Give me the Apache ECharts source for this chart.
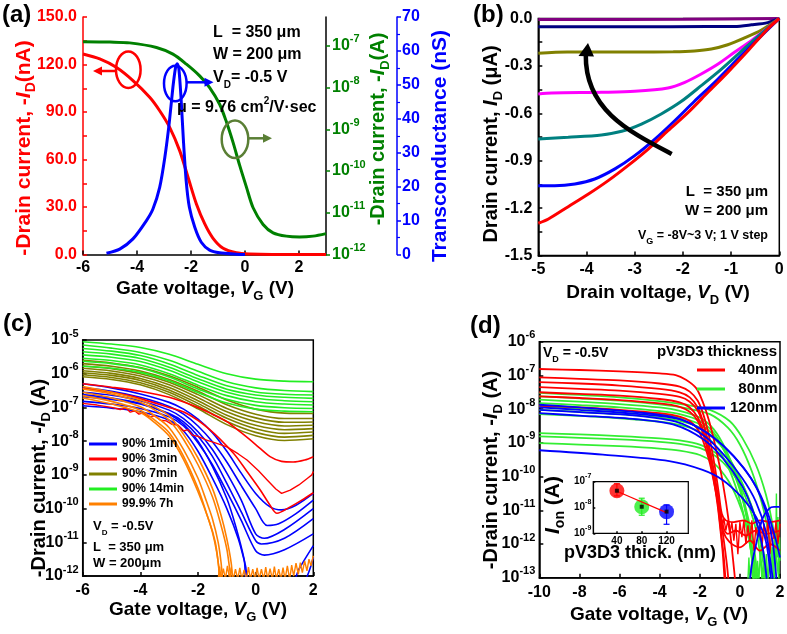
<!DOCTYPE html>
<html>
<head>
<meta charset="utf-8">
<script src="https://cdn.jsdelivr.net/npm/echarts@6.0.0/dist/echarts.min.js"></script>
<style>
html,body{margin:0;padding:0;background:#ffffff;}
#chart{width:787px;height:634px;}
</style>
</head>
<body>
<div id="chart"></div>
<script>
// ================= DATA =================
// ---- Panel (a): transfer curve (VG in V) ----
const aXTicks = [-6, -4, -2, 0, 2];
const aGreenTicks = [-12, -11, -10, -9, -8, -7];           // log10(A)
const aRedLinear = [[-6,126.6],[-5.38,123.5],[-4.77,118.2],[-4.15,109.8],[-3.53,99.3],[-3.16,90.8],[-2.79,80.3],[-2.42,65.6],[-2.11,48.8],[-1.8,31.9],[-1.49,19.3],[-1.19,10.4],[-0.81,3.9],[-0.32,1.1],[0.17,0.3],[1,0],[2,0],[3,0]]; // nA
const aGreenLog = [[-6,-6.90],[-5,-6.91],[-4.27,-6.93],[-3.28,-7.04],[-2.67,-7.20],[-2.17,-7.44],[-1.68,-7.72],[-1.31,-8.00],[-0.94,-8.40],[-0.69,-8.82],[-0.44,-9.32],[-0.20,-9.86],[0.05,-10.38],[0.30,-10.88],[0.67,-11.28],[1.04,-11.48],[1.53,-11.56],[2.02,-11.58],[2.52,-11.56],[3.0,-11.50]]; // log10(A)
const aBlueGm = [[-5.13,0.35],[-4.64,1.6],[-4.15,4.6],[-3.65,10],[-3.41,13.4],[-3.16,19.8],[-2.97,28.6],[-2.81,38.5],[-2.67,49.3],[-2.57,55.2],[-2.51,56.2],[-2.45,54.8],[-2.37,46.3],[-2.28,33.5],[-2.18,21.8],[-2.06,13.9],[-1.86,8.0],[-1.62,3.6],[-1.31,1.3],[-0.94,0.5],[-0.32,0.1],[0,0]]; // nS

// ---- Panel (b): output curves (VD in V, ID in uA) ----
const bPurple  = [[-5,-0.006],[-2,-0.005],[0,0]];
const bNavy    = [[-5,-0.052],[-3,-0.052],[-1.5,-0.051],[-0.93,-0.05],[-0.58,-0.04],[-0.24,-0.026],[0,0]];
const bOlive   = [[-5,-0.22],[-4.4,-0.212],[-3,-0.212],[-2.2,-0.21],[-1.76,-0.205],[-1.41,-0.193],[-1.07,-0.166],[-0.72,-0.123],[-0.37,-0.073],[0,0]];
const bMagenta = [[-5,-0.478],[-4.72,-0.472],[-3.69,-0.467],[-3.0,-0.461],[-2.31,-0.44],[-1.96,-0.404],[-1.62,-0.351],[-1.27,-0.288],[-0.93,-0.214],[-0.58,-0.14],[-0.24,-0.06],[0,0]];
const bTeal    = [[-5,-0.763],[-4.38,-0.752],[-3.69,-0.737],[-3.27,-0.714],[-2.86,-0.668],[-2.45,-0.604],[-2.03,-0.524],[-1.62,-0.425],[-1.2,-0.32],[-0.79,-0.208],[-0.38,-0.098],[0,0]];
const bBlue    = [[-5,-1.058],[-4.66,-1.058],[-4.24,-1.047],[-3.83,-1.016],[-3.41,-0.952],[-3.0,-0.868],[-2.58,-0.763],[-2.17,-0.647],[-1.76,-0.524],[-1.34,-0.404],[-0.93,-0.277],[-0.51,-0.151],[0,0]];
const bRed     = [[-5,-1.296],[-4.79,-1.269],[-4.38,-1.191],[-3.96,-1.111],[-3.55,-1.026],[-3.14,-0.931],[-2.72,-0.826],[-2.31,-0.71],[-1.89,-0.594],[-1.48,-0.467],[-1.07,-0.341],[-0.65,-0.204],[-0.24,-0.066],[0,0]];

// ---- Panel (c): log10(-ID) vs VG ----
const cX = [-6,-5,-4,-3,-2,-1,0,1,2];
const cG1 = [-5.05,-5.12,-5.22,-5.42,-5.72,-6.0,-6.16,-6.22,-6.24];
const cG2 = [-5.15,-5.24,-5.37,-5.6,-5.93,-6.24,-6.42,-6.5,-6.53];
const cG3 = [-5.25,-5.33,-5.46,-5.71,-6.05,-6.36,-6.54,-6.61,-6.63];
const cG4 = [-5.35,-5.42,-5.55,-5.81,-6.15,-6.46,-6.63,-6.7,-6.73];
const cG5 = [-5.44,-5.51,-5.64,-5.9,-6.24,-6.55,-6.73,-6.8,-6.83];
const cG6 = [-5.54,-5.61,-5.74,-6.0,-6.34,-6.65,-6.83,-6.9,-6.93];
const cG7 = [-5.63,-5.7,-5.83,-6.1,-6.45,-6.76,-6.94,-7.01,-7.03];
const cG8 = [-5.78,-5.84,-5.96,-6.21,-6.56,-6.87,-7.05,-7.11,-7.13];
const cY1 = [-5.6,-5.68,-5.82,-6.06,-6.4,-6.78,-7.05,-7.17,-7.18];
const cY2 = [-5.7,-5.78,-5.92,-6.17,-6.52,-6.92,-7.2,-7.33,-7.33];
const cY3 = [-5.77,-5.85,-6.0,-6.25,-6.62,-7.03,-7.31,-7.44,-7.43];
const cY4 = [-5.84,-5.92,-6.07,-6.33,-6.71,-7.13,-7.42,-7.55,-7.53];
const cY5 = [-5.91,-5.99,-6.14,-6.41,-6.8,-7.23,-7.53,-7.66,-7.63];
const cY6 = [-5.97,-6.05,-6.2,-6.48,-6.88,-7.32,-7.63,-7.77,-7.73];
const cY7 = [-6.03,-6.11,-6.27,-6.55,-6.96,-7.42,-7.74,-7.88,-7.83];
const cY8 = [-6.09,-6.17,-6.33,-6.62,-7.04,-7.51,-7.84,-7.98,-7.93];
const cB1 = [[-6,-6.3],[-5,-6.42],[-4,-6.6],[-3,-6.85],[-2.5,-7.05],[-2,-7.35],[-1.5,-7.75],[-1,-8.3],[-0.5,-8.95],[0,-9.55],[0.5,-9.95],[0.9,-10.04],[1.4,-9.9],[2,-9.55]];
const cB2 = [[-6,-6.42],[-5,-6.52],[-4,-6.7],[-3,-6.97],[-2.5,-7.2],[-2,-7.55],[-1.5,-8.02],[-1,-8.62],[-0.5,-9.32],[0,-10.0],[0.4,-10.5],[0.8,-10.45],[1.4,-10.15],[2,-9.75]];
const cB3 = [[-6,-6.55],[-5,-6.64],[-4,-6.8],[-3,-7.08],[-2.5,-7.33],[-2,-7.72],[-1.5,-8.25],[-1,-8.95],[-0.5,-9.75],[0,-10.75],[0.3,-10.88],[1,-10.62],[2,-10.0]];
const cB4 = [[-6,-6.68],[-5,-6.76],[-4,-6.9],[-3,-7.18],[-2.5,-7.43],[-2,-7.85],[-1.5,-8.45],[-1,-9.25],[-0.5,-10.1],[0,-10.95],[0.2,-11.05],[1,-10.88],[2,-10.3]];
const cB5 = [[-6,-6.82],[-5,-6.9],[-4,-7.03],[-3,-7.28],[-2.5,-7.55],[-2,-8.05],[-1.5,-8.7],[-1,-9.5],[-0.5,-10.35],[0,-11.25],[0.3,-11.38],[1,-11.22],[2,-10.75]];
const cB6 = [[-6,-6.95],[-5,-7.02],[-4,-7.13],[-3,-7.38],[-2.5,-7.7],[-2,-8.3],[-1.5,-9.1],[-1,-10.0],[-0.6,-10.9],[-0.35,-11.7],[-0.2,-12.3],[1.2,-12.3],[1.5,-11.8],[2,-11.1]];
const cB7 = [[-6,-6.62],[-5,-6.72],[-4,-6.88],[-3,-7.2],[-2.5,-7.5],[-2,-8.0],[-1.5,-8.75],[-1,-9.7],[-0.7,-10.5],[-0.4,-11.5],[-0.25,-12.3],[1.5,-12.3],[2,-11.45]];
const cR1 = [[-6,-6.3],[-5,-6.4],[-4,-6.52],[-3,-6.7],[-2,-7.0],[-1.5,-7.2],[-1,-7.42],[-0.5,-7.75],[0,-8.1],[0.5,-8.46],[0.9,-8.6],[1.3,-8.62],[1.7,-8.56],[2,-8.46]];
const cR2 = [[-6,-6.88],[-5.5,-6.93],[-5,-7.0],[-4.7,-7.06],[-4.5,-7.02],[-4.35,-7.14],[-4.2,-7.1],[-4.05,-7.2],[-3.9,-7.16],[-3.7,-7.28],[-3.5,-7.25],[-3.3,-7.38],[-3.1,-7.4],[-2.9,-7.5],[-2.7,-7.52],[-2.5,-7.7],[-2.35,-7.66],[-2.2,-7.82],[-2.0,-7.86],[-1.7,-7.97],[-1.4,-8.05],[-1.0,-8.17],[-0.6,-8.38],[-0.3,-8.56],[0.1,-8.88],[0.4,-9.15],[0.7,-9.42],[0.9,-9.55],[1.2,-9.45],[1.5,-9.3],[1.8,-9.1],[1.95,-9.0],[2,-8.9]];
const cR3 = [[-6,-6.43],[-5,-6.55],[-4.24,-6.68],[-3.08,-6.98],[-2.39,-7.18],[-1.6,-7.65],[-0.77,-8.36],[-0.3,-8.9],[0.16,-9.45],[0.5,-9.9],[0.74,-10.14],[1.2,-9.95],[1.6,-9.75],[2,-9.53]];
const cO1 = [[-6,-6.38],[-5,-6.55],[-4,-6.78],[-3.5,-6.98],[-3,-7.25],[-2.5,-7.8],[-2,-8.5],[-1.5,-9.4],[-1.2,-10.2],[-1,-10.9],[-0.85,-11.6],[-0.8,-12.1]];
const cO2 = [[-6,-6.45],[-5,-6.6],[-4,-6.85],[-3.5,-7.08],[-3,-7.38],[-2.5,-7.95],[-2,-8.7],[-1.5,-9.65],[-1.2,-10.5],[-1,-11.2],[-0.9,-11.8],[-0.85,-12.1]];
const cO3 = [[-6,-6.55],[-5,-6.72],[-4,-6.98],[-3.5,-7.25],[-3,-7.6],[-2.5,-8.25],[-2,-9.1],[-1.7,-9.8],[-1.5,-10.3],[-1.3,-11.0],[-1.2,-11.6],[-1.15,-12.1]];
const cO4 = [[-6,-6.65],[-5,-6.82],[-4,-7.08],[-3.5,-7.38],[-3,-7.75],[-2.5,-8.45],[-2,-9.4],[-1.7,-10.15],[-1.5,-10.7],[-1.35,-11.3],[-1.25,-11.9],[-1.2,-12.1]];
const cO5 = [[-6,-6.72],[-5,-6.9],[-4,-7.15],[-3.5,-7.45],[-3,-7.85],[-2.5,-8.55],[-2,-9.5],[-1.6,-10.4],[-1.4,-11.0],[-1.3,-11.6],[-1.25,-12.1]];
const cONoise = [[-1.3,-12.1],[-1.25,-11.72],[-1.2,-12.1],[-1.12,-11.78],[-1.05,-12.1],[-0.98,-11.7],[-0.9,-12.1],[-0.85,-11.75],[-0.78,-12.1],[-0.7,-11.8],[-0.62,-12.1],[-0.55,-11.76],[-0.48,-12.1],[-0.4,-11.82],[-0.32,-12.1],[-0.25,-11.74],[-0.18,-12.1],[-0.1,-11.8],[-0.02,-12.1],[0.05,-11.76],[0.12,-12.1],[0.2,-11.8],[0.28,-12.1],[0.35,-11.74],[0.42,-12.1],[0.5,-11.78],[0.58,-12.1],[0.65,-11.72],[0.72,-12.1],[0.8,-11.8],[0.88,-12.1],[0.95,-11.75],[1.02,-12.1],[1.1,-11.7],[1.18,-12.1],[1.25,-11.68],[1.32,-12.0],[1.4,-11.62],[1.48,-11.95],[1.55,-11.6],[1.62,-11.9],[1.7,-11.55],[1.78,-11.85],[1.85,-11.5],[1.92,-11.7],[2,-11.4]];

// ---- Panel (d): log10(-ID) vs VG ----
const dR1 = [[-10,-6.81],[-8,-6.84],[-6,-6.88],[-4,-6.94],[-3.2,-6.99],[-2.69,-7.13],[-2.19,-7.37],[-1.86,-7.77],[-1.53,-8.36],[-1.2,-9.16],[-0.86,-10.15],[-0.53,-11.44],[-0.28,-12.82],[-0.22,-13.2]];
const dR2 = [[-10,-7.06],[-8,-7.1],[-6,-7.15],[-4,-7.24],[-3,-7.33],[-2.5,-7.48],[-2.1,-7.75],[-1.8,-8.2],[-1.5,-8.9],[-1.25,-9.7],[-1.05,-10.5],[-0.9,-11.1],[-0.7,-11.3],[-0.3,-11.35],[0.2,-11.3],[0.6,-11.4],[1,-11.3],[1.5,-11.35],[2,-11.3]];
const dR3 = [[-10,-7.2],[-8,-7.24],[-6,-7.3],[-4,-7.4],[-3,-7.5],[-2.5,-7.65],[-2.1,-7.95],[-1.8,-8.45],[-1.55,-9.1],[-1.3,-9.9],[-1.1,-10.8],[-0.95,-11.6],[-0.8,-12.4],[-0.7,-13.2]];
const dR4 = [[-10,-7.35],[-8,-7.4],[-6,-7.45],[-4,-7.55],[-3,-7.64],[-2.5,-7.78],[-2.1,-8.05],[-1.8,-8.5],[-1.5,-9.2],[-1.25,-10.0],[-1.0,-10.9],[-0.8,-11.55],[-0.6,-11.7],[-0.2,-11.6],[0.3,-11.75],[0.8,-11.6],[1.3,-11.7],[2,-11.6]];
const dR5 = [[-10,-7.5],[-8,-7.55],[-6,-7.6],[-4,-7.7],[-3,-7.8],[-2.5,-7.95],[-2.1,-8.25],[-1.8,-8.7],[-1.55,-9.3],[-1.3,-10.1],[-1.1,-10.9],[-0.95,-11.7],[-0.85,-12.3],[-0.75,-13.2]];
const dR6 = [[-10,-7.62],[-8,-7.67],[-6,-7.73],[-4,-7.83],[-3,-7.93],[-2.5,-8.08],[-2.1,-8.35],[-1.8,-8.8],[-1.5,-9.45],[-1.3,-10.05],[-1.05,-10.9],[-0.85,-11.6],[-0.5,-11.95],[0,-12.1],[0.5,-11.9],[1,-12.2],[1.5,-12.0],[2,-12.2]];
const dR7 = [[-10,-7.9],[-8,-7.95],[-6,-8.02],[-4,-8.12],[-3,-8.22],[-2.5,-8.35],[-2.1,-8.6],[-1.8,-9.0],[-1.5,-9.6],[-1.25,-10.3],[-1.0,-11.1],[-0.8,-11.9],[-0.65,-12.6],[-0.55,-13.2]];
const dRNoise = [[-1.0,-11.2],[-0.9,-11.55],[-0.8,-11.25],[-0.7,-11.6],[-0.6,-11.3],[-0.5,-11.7],[-0.4,-11.35],[-0.3,-11.9],[-0.2,-11.4],[-0.1,-12.3],[0,-11.35],[0.1,-11.8],[0.2,-11.3],[0.3,-12.0],[0.4,-11.45],[0.5,-11.9],[0.6,-11.3],[0.7,-12.2],[0.8,-11.5],[0.9,-11.8],[1.0,-11.35],[1.1,-12.1],[1.2,-11.4],[1.3,-11.9],[1.4,-11.3],[1.5,-12.3],[1.6,-11.5],[1.7,-11.85],[1.8,-11.35],[1.9,-12.0],[2.0,-11.4]];
const dG1 = [[-10,-7.52],[-8,-7.58],[-6,-7.65],[-4,-7.76],[-2.7,-7.87],[-1.5,-8.02],[-0.5,-8.36],[0.13,-8.86],[0.8,-9.65],[1.3,-10.54],[1.63,-11.43],[1.8,-12.3],[1.96,-13.1]];
const dG2 = [[-10,-7.62],[-8,-7.68],[-6,-7.75],[-4,-7.86],[-2.7,-7.97],[-1.5,-8.15],[-0.6,-8.55],[0,-9.05],[0.6,-9.85],[1.1,-10.8],[1.4,-11.6],[1.6,-12.4],[1.75,-13.1]];
const dG3 = [[-10,-7.72],[-8,-7.78],[-6,-7.85],[-4,-7.95],[-3,-8.05],[-2,-8.25],[-1.3,-8.6],[-0.7,-9.2],[-0.2,-9.95],[0.2,-10.8],[0.5,-11.7],[0.7,-12.5],[0.85,-13.1]];
const dG4 = [[-10,-7.82],[-8,-7.88],[-6,-7.95],[-4,-8.06],[-3,-8.15],[-2,-8.35],[-1.3,-8.7],[-0.8,-9.2],[-0.3,-9.9],[0.1,-10.6],[0.4,-11.4],[0.6,-12.2],[0.75,-13.1]];
const dG5 = [[-10,-7.92],[-8,-7.98],[-6,-8.05],[-4,-8.15],[-3,-8.25],[-2,-8.45],[-1.2,-8.85],[-0.5,-9.55],[0,-10.3],[0.4,-11.2],[0.7,-12.1],[0.9,-13.1]];
const dG6 = [[-10,-8.02],[-8,-8.08],[-6,-8.15],[-4,-8.25],[-3,-8.35],[-2,-8.55],[-1.0,-9.05],[-0.2,-9.8],[0.4,-10.6],[0.9,-11.5],[1.2,-12.3],[1.4,-13.1]];
const dG7 = [[-10,-8.15],[-8,-8.2],[-6,-8.27],[-4,-8.37],[-3,-8.47],[-2,-8.68],[-1.2,-9.1],[-0.6,-9.7],[-0.1,-10.5],[0.3,-11.4],[0.55,-12.2],[0.7,-13.1]];
const dG8 = [[-10,-8.71],[-8,-8.75],[-6,-8.8],[-4,-8.87],[-3,-8.93],[-2,-9.05],[-1.2,-9.3],[-0.5,-9.65],[0.1,-10.2],[0.6,-10.9],[0.95,-11.7],[1.15,-12.5],[1.3,-13.1]];
const dG9 = [[-10,-8.81],[-8,-8.85],[-6,-8.9],[-4,-8.97],[-3,-9.03],[-2,-9.15],[-1.2,-9.4],[-0.5,-9.8],[0,-10.25],[0.5,-10.95],[0.85,-11.7],[1.05,-12.5],[1.2,-13.1]];
const dG10 = [[-10,-9.01],[-8,-9.05],[-6,-9.1],[-4,-9.17],[-3,-9.23],[-2,-9.36],[-1.3,-9.6],[-0.6,-10.1],[-0.1,-10.7],[0.3,-11.4],[0.55,-12.2],[0.7,-13.1]];
const dGNoise = [[0.4,-13.1],[0.45,-12.4],[0.5,-13.1],[0.58,-12.6],[0.65,-13.1],[0.72,-12.3],[0.8,-13.1],[0.88,-12.5],[0.95,-13.1],[1.02,-12.2],[1.1,-13.1],[1.18,-12.6],[1.25,-13.1],[1.32,-12.3],[1.4,-13.1],[1.48,-12.4],[1.55,-13.1],[1.62,-12.1],[1.68,-13.1],[1.74,-11.6],[1.78,-12.8],[1.82,-10.5],[1.86,-12.4],[1.9,-11.2],[1.94,-12.9],[1.98,-11.8],[2,-12.5]];
const dB1 = [[-10,-7.87],[-8,-7.95],[-5.17,-8.09],[-3.19,-8.26],[-1.86,-8.62],[-0.86,-9.07],[0.13,-9.71],[0.8,-10.3],[1.3,-11.04],[1.63,-11.92],[1.83,-13.1]];
const dB2 = [[-10,-8.02],[-8,-8.09],[-5.17,-8.19],[-3.19,-8.37],[-1.86,-8.76],[-0.86,-9.31],[0.13,-10.06],[0.8,-10.75],[1.3,-11.64],[1.55,-12.63],[1.66,-13.1]];
const dB3 = [[-10,-8.12],[-8,-8.19],[-5.17,-8.3],[-3.19,-8.48],[-1.86,-8.88],[-0.86,-9.45],[0.13,-10.3],[0.7,-11.1],[1.1,-12.0],[1.35,-13.1]];
const dB4 = [[-10,-9.22],[-6.83,-9.35],[-3.52,-9.54],[-1.86,-9.8],[-0.86,-10.1],[0.13,-10.64],[0.8,-11.19],[1.3,-11.93],[1.55,-13.1]];
const dB5 = [[0.5,-13.1],[0.6,-12.6],[0.8,-12.03],[1.13,-11.24],[1.46,-10.95],[1.7,-10.9],[2.0,-10.9]];
const dB6 = [[-10,-7.95],[-8,-8.02],[-5,-8.15],[-3,-8.3],[-1.8,-8.65],[-0.8,-9.1],[0.2,-9.75],[0.9,-10.4],[1.4,-11.1],[1.8,-11.9],[2,-12.4]];

// ---- Inset of (d): Ion vs thickness ----
const insetThick = [40, 80, 120];
const insetXTicks = [40, 80, 120];
const insetIonLog = [-7.35, -7.97, -8.16];
const insetErrHi  = [-7.08, -7.64, -7.90];
const insetErrLo  = [-7.55, -8.30, -8.65];
const insetFitX   = [40, 120];
const insetFitLog = [-7.37, -8.20];

// ================= STYLE / BUILD =================
const FF = '"Liberation Sans", Arial, Helvetica, sans-serif';
const RED = '#ff0000', GREEN_A = '#008000', BLUE = '#0000ff';
const C_BLUE = '#0000ff', C_RED = '#ff0000', C_OLIVE = '#808000', C_GREEN = '#22ee22', C_ORANGE = '#ff8000';
const D_RED = '#ff0000', D_GREEN = '#33ee33', D_BLUE = '#0000ff';
const insetColors = ['#ff0000', '#22ee22', '#0000ff'];

function lab(size, color, extra) {
  return Object.assign({show: true, fontFamily: FF, fontSize: size, fontWeight: 'bold', color: color || '#000'}, extra || {});
}
function logLab(color, base, sup, margin, values) {
  const l = {
    show: true, margin: margin,
    formatter: function (v) { return '{b|10}{s|' + Math.round(v) + '}'; },
    rich: {
      b: {fontFamily: FF, fontSize: base, fontWeight: 'bold', color: color, lineHeight: base + 8},
      s: {fontFamily: FF, fontSize: sup, fontWeight: 'bold', color: color, lineHeight: sup, verticalAlign: 'top'}
    }
  };
  if (values) l.customValues = values;
  return l;
}
function aLine(color, w) { return {show: true, onZero: false, lineStyle: {color: color, width: w || 1.5}}; }
function aTick(color, inside, len, values) {
  const t = {show: true, inside: inside, length: len, lineStyle: {color: color, width: 1.5}};
  if (values) t.customValues = values;
  return t;
}
const noSplit = {show: false};

function ln(name, data, color, xi, yi, width, smooth) {
  return {type: 'line', name: name, data: data, xAxisIndex: xi, yAxisIndex: yi,
    symbol: 'none', showSymbol: false, smooth: smooth === undefined ? 0.3 : smooth,
    lineStyle: {color: color, width: width}, itemStyle: {color: color},
    clip: true, animation: false, silent: true};
}
function zipX(xs, ys) { return xs.map(function (x, i) { return [x, ys[i]]; }); }

const series = [];
// (a)
series.push(ln('a-Id-lin', aRedLinear, RED, 0, 0, 3));
series.push(ln('a-Id-log', aGreenLog, GREEN_A, 0, 1, 3));
series.push(ln('a-gm', aBlueGm, BLUE, 0, 2, 3, 0.25));
// (b)
[[bPurple,'#800080'],[bNavy,'#000080'],[bOlive,'#808000'],[bMagenta,'#ff00ff'],[bTeal,'#008080'],[bBlue,'#0000ff'],[bRed,'#ff0000']]
  .forEach(function (p, i) { series.push(ln('b-' + i, p[0], p[1], 1, 3, 3)); });
// (c)
[cY1,cY2,cY3,cY4,cY5,cY6,cY7,cY8].forEach(function (a) { series.push(ln('90% 7min', zipX(cX, a), C_OLIVE, 2, 4, 1.6)); });
[cG1,cG2,cG3,cG4,cG5,cG6,cG7,cG8].forEach(function (a) { series.push(ln('90% 14min', zipX(cX, a), C_GREEN, 2, 4, 1.6)); });
[cB1,cB2,cB3,cB4,cB5,cB6,cB7].forEach(function (a) { series.push(ln('90% 1min', a, C_BLUE, 2, 4, 1.6)); });
series.push(ln('90% 3min', cR1, C_RED, 2, 4, 1.6));
series.push(ln('90% 3min', cR2, C_RED, 2, 4, 1.4, false));
series.push(ln('90% 3min', cR3, C_RED, 2, 4, 1.6));
[cO1,cO2,cO3,cO4,cO5].forEach(function (a) { series.push(ln('99.9% 7h', a, C_ORANGE, 2, 4, 1.6)); });
series.push(ln('99.9% 7h', cONoise, C_ORANGE, 2, 4, 1.4, false));
// (d)
[dG1,dG2,dG3,dG4,dG5,dG6,dG7,dG8,dG9,dG10].forEach(function (a) { series.push(ln('80nm', a, D_GREEN, 3, 5, 1.8)); });
series.push(ln('80nm', dGNoise, D_GREEN, 3, 5, 1.4, false));
[dR1,dR2,dR3,dR4,dR5,dR6,dR7].forEach(function (a) { series.push(ln('40nm', a, D_RED, 3, 5, 1.8)); });
series.push(ln('40nm', dRNoise, D_RED, 3, 5, 1.4, false));
[dB1,dB2,dB3,dB4,dB5,dB6].forEach(function (a) { series.push(ln('120nm', a, D_BLUE, 3, 5, 1.8)); });
// inset
series.push({
  type: 'custom', name: 'inset-err', xAxisIndex: 4, yAxisIndex: 6, silent: true, animation: false, z: 10,
  data: insetThick.map(function (x, i) { return [x, insetErrLo[i], insetErrHi[i]]; }),
  renderItem: function (params, api) {
    const x = api.value(0), lo = api.value(1), hi = api.value(2);
    const p1 = api.coord([x, hi]), p2 = api.coord([x, lo]);
    const c = insetColors[params.dataIndex];
    const st = {stroke: c, lineWidth: 1.2};
    return {type: 'group', children: [
      {type: 'line', shape: {x1: p1[0], y1: p1[1], x2: p2[0], y2: p2[1]}, style: st},
      {type: 'line', shape: {x1: p1[0] - 3, y1: p1[1], x2: p1[0] + 3, y2: p1[1]}, style: st},
      {type: 'line', shape: {x1: p2[0] - 3, y1: p2[1], x2: p2[0] + 3, y2: p2[1]}, style: st}
    ]};
  }
});
series.push({
  type: 'scatter', name: 'inset-ion', xAxisIndex: 4, yAxisIndex: 6, symbol: 'circle', symbolSize: 15, silent: true, animation: false, z: 11,
  data: insetThick.map(function (x, i) { return {value: [x, insetIonLog[i]], itemStyle: {color: insetColors[i]}}; })
});
(function () {
  const f = ln('inset-fit', zipX(insetFitX, insetFitLog), '#ff0000', 4, 6, 1.2, false);
  f.z = 12;
  series.push(f);
})();
series.push({
  type: 'scatter', name: 'inset-center', xAxisIndex: 4, yAxisIndex: 6, symbol: 'rect', symbolSize: 4, silent: true, animation: false, z: 13,
  itemStyle: {color: '#000'}, data: zipX(insetThick, insetIonLog)
});

// ---- text helpers for graphics ----
function rich(size, subSize, color) {
  const base = {fontFamily: FF, fontWeight: 'bold', fill: color, color: color};
  return {
    t: Object.assign({}, base, {fontSize: size, lineHeight: size + 8}),
    i: Object.assign({}, base, {fontSize: size, fontStyle: 'italic', lineHeight: size + 8}),
    s: Object.assign({}, base, {fontSize: subSize, lineHeight: subSize, verticalAlign: 'bottom'}),
    p: Object.assign({}, base, {fontSize: subSize, lineHeight: subSize, verticalAlign: 'top'})
  };
}
function txt(x, y, text, size, subSize, color, align, vAlign, rot) {
  return {type: 'text', x: x, y: y, rotation: rot || 0, z: 100, silent: true,
    style: {text: text, rich: rich(size, subSize, color), fill: color, fontFamily: FF, fontWeight: 'bold', fontSize: size,
      align: align || 'center', verticalAlign: vAlign || 'middle'}};
}
const R90 = Math.PI / 2;
const graphics = [
  // panel labels
  txt(2, 15, '{t|(a)}', 24, 14, '#000', 'left', 'middle'),
  txt(473, 15, '{t|(b)}', 24, 14, '#000', 'left', 'middle'),
  txt(3, 324, '{t|(c)}', 24, 14, '#000', 'left', 'middle'),
  txt(470, 326, '{t|(d)}', 24, 14, '#000', 'left', 'middle'),
  // axis titles (a)
  txt(24, 148, '{t|-Drain current, -}{i|I}{s|D}{t|(nA)}', 21, 14, RED, 'center', 'middle', R90),
  txt(378, 129, '{t|-Drain current, -}{i|I}{s|D}{t|(A)}', 20, 13, GREEN_A, 'center', 'middle', R90),
  txt(440, 146, '{t|Transconductance (nS)}', 21, 13, BLUE, 'center', 'middle', R90),
  txt(205, 289, '{t|Gate voltage, }{i|V}{s|G}{t| (V)}', 19, 13, '#000'),
  // (b)
  txt(491, 144, '{t|Drain current, }{i|I}{s|D}{t| (μA)}', 20, 13, '#000', 'center', 'middle', R90),
  txt(658, 293, '{t|Drain voltage, }{i|V}{s|D}{t| (V)}', 19, 13, '#000'),
  // (c)
  txt(39, 478, '{t|-Drain current, -}{i|I}{s|D}{t| (A)}', 20, 13, '#000', 'center', 'middle', R90),
  txt(198, 610, '{t|Gate voltage, }{i|V}{s|G}{t| (V)}', 19, 13, '#000'),
  // (d)
  txt(491, 470, '{t|-Drain current, -}{i|I}{s|D}{t| (A)}', 20, 13, '#000', 'center', 'middle', R90),
  txt(659, 615, '{t|Gate voltage, }{i|V}{s|G}{t| (V)}', 19, 13, '#000'),
  txt(553, 505, '{i|I}{s|on}{t| (A)}', 21, 14, '#000', 'center', 'middle', R90),
  txt(640, 553, '{t|pV3D3 thick. (nm)}', 18, 12, '#000'),
  // annotations (a)
  txt(213, 33, '{t|L  = 350 μm}', 16, 10, '#000', 'left'),
  txt(213, 55, '{t|W = 200 μm}', 16, 10, '#000', 'left'),
  txt(213, 78, '{t|V}{s|D}{t|= -0.5 V}', 16, 10, '#000', 'left'),
  txt(177, 108, '{t|μ = 9.76 cm}{p|2}{t|/V·sec}', 16, 10, '#000', 'left'),
  // annotations (b)
  txt(768, 192, '{t|L  = 350 μm}', 15, 10, '#000', 'right'),
  txt(768, 211, '{t|W = 200 μm}', 15, 10, '#000', 'right'),
  txt(768, 236, '{t|V}{s|G}{t| = -8V~3 V; 1 V step}', 12.5, 9, '#000', 'right'),
  // annotations (c)
  txt(93, 526, '{t|V}{s|D}{t| = -0.5V}', 13, 8, '#000', 'left'),
  txt(93, 547, '{t|L  = 350 μm}', 13, 8, '#000', 'left'),
  txt(93, 563, '{t|W = 200μm}', 13, 8, '#000', 'left'),
  // annotations (d)
  txt(543, 353, '{t|V}{s|D}{t| = -0.5V}', 14, 9, '#000', 'left'),
  txt(777, 352, '{t|pV3D3 thickness}', 15, 10, '#000', 'right'),
  // ellipses and arrows (a)
  {type: 'ellipse', z: 100, silent: true, shape: {cx: 128.3, cy: 69.7, rx: 12.3, ry: 18.3}, style: {fill: 'none', stroke: RED, lineWidth: 2.5}},
  {type: 'line', z: 100, silent: true, shape: {x1: 116, y1: 71, x2: 100, y2: 71}, style: {stroke: RED, lineWidth: 2.5}},
  {type: 'polygon', z: 100, silent: true, shape: {points: [[93, 71], [102, 66.5], [102, 75.5]]}, style: {fill: RED}},
  {type: 'ellipse', z: 100, silent: true, shape: {cx: 175.3, cy: 83.5, rx: 11.3, ry: 17.8}, style: {fill: 'none', stroke: BLUE, lineWidth: 2.5}},
  {type: 'line', z: 100, silent: true, shape: {x1: 186.7, y1: 82.3, x2: 206, y2: 82.3}, style: {stroke: BLUE, lineWidth: 2.5}},
  {type: 'polygon', z: 100, silent: true, shape: {points: [[213.5, 82.3], [204.5, 77.8], [204.5, 86.8]]}, style: {fill: BLUE}},
  {type: 'ellipse', z: 100, silent: true, shape: {cx: 235, cy: 139.3, rx: 13.3, ry: 18.7}, style: {fill: 'none', stroke: '#5a7f35', lineWidth: 2.5}},
  {type: 'line', z: 100, silent: true, shape: {x1: 248.3, y1: 138.3, x2: 265, y2: 138.3}, style: {stroke: '#5a7f35', lineWidth: 2.5}},
  {type: 'polygon', z: 100, silent: true, shape: {points: [[272, 138.3], [263, 133.8], [263, 142.8]]}, style: {fill: '#5a7f35'}},
  // black arrow (b)
  {type: 'bezierCurve', z: 100, silent: true, shape: {x1: 671.7, y1: 154, cpx1: 630, cpy1: 132, cpx2: 585, cpy2: 110, x2: 585.8, y2: 55}, style: {fill: 'none', stroke: '#000', lineWidth: 4.5}},
  {type: 'polygon', z: 100, silent: true, shape: {points: [[588, 43], [578.5, 56], [594, 56.5]]}, style: {fill: '#000'}}
];

const legendText = {fontFamily: FF, fontWeight: 'bold', color: '#000'};

const option = {
  backgroundColor: '#ffffff',
  animation: false,
  grid: [
    {left: 83, top: 17, width: 243, height: 237.5, show: false, outerBoundsMode: 'none'},
    {left: 538.3, top: 18.5, width: 241, height: 237, show: true, borderColor: '#000', borderWidth: 1.5, outerBoundsMode: 'none'},
    {left: 82.7, top: 340, width: 230.6, height: 236, show: true, borderColor: '#000', borderWidth: 1.5, outerBoundsMode: 'none'},
    {left: 539.3, top: 341.7, width: 240.7, height: 236, show: true, borderColor: '#000', borderWidth: 1.5, outerBoundsMode: 'none'},
    {left: 593.3, top: 481.7, width: 95, height: 51.6, show: true, borderColor: '#000', borderWidth: 1.2, backgroundColor: '#ffffff', outerBoundsMode: 'none'}
  ],
  xAxis: [
    {gridIndex: 0, type: 'value', min: -6, max: 3, axisLine: aLine('#000'), axisTick: aTick('#000', true, 4, aXTicks),
      axisLabel: lab(16, '#000', {margin: 5, customValues: aXTicks}), splitLine: noSplit},
    {gridIndex: 1, type: 'value', min: -5, max: 0, interval: 1, axisLine: aLine('#000'), axisTick: aTick('#000', true, 4),
      axisLabel: lab(16, '#000', {margin: 6}), splitLine: noSplit},
    {gridIndex: 2, type: 'value', min: -6, max: 2, interval: 2, axisLine: aLine('#000'), axisTick: aTick('#000', true, 4),
      axisLabel: lab(16, '#000', {margin: 7}), splitLine: noSplit},
    {gridIndex: 3, type: 'value', min: -10, max: 2, interval: 2, axisLine: aLine('#000'), axisTick: aTick('#000', true, 4),
      axisLabel: lab(16, '#000', {margin: 7}), splitLine: noSplit},
    {gridIndex: 4, type: 'value', min: 2, max: 155, axisLine: aLine('#000', 1.2), axisTick: aTick('#000', true, 2, insetXTicks),
      axisLabel: lab(10, '#000', {margin: 3, customValues: insetXTicks}), splitLine: noSplit}
  ],
  yAxis: [
    {gridIndex: 0, type: 'value', position: 'left', min: 0, max: 150, interval: 30,
      axisLine: aLine(RED), axisTick: aTick(RED, true, 4),
      minorTick: {show: true, splitNumber: 2, length: 4, lineStyle: {color: RED, width: 1.5}},
      axisLabel: lab(16, RED, {margin: 6, formatter: function (v) { return v.toFixed(1); }}), splitLine: noSplit},
    {gridIndex: 0, type: 'value', position: 'right', min: -12, max: -6.31,
      axisLine: aLine('#000'), axisTick: aTick(GREEN_A, false, 4, aGreenTicks),
      axisLabel: logLab(GREEN_A, 16, 11, 6, aGreenTicks), splitLine: noSplit},
    {gridIndex: 0, type: 'value', position: 'right', offset: 71, min: 0, max: 70, interval: 10,
      axisLine: aLine(BLUE), axisTick: aTick(BLUE, false, 4),
      minorTick: {show: true, splitNumber: 2, length: 3, lineStyle: {color: BLUE, width: 1.2}},
      axisLabel: lab(16, BLUE, {margin: 5}), splitLine: noSplit},
    {gridIndex: 1, type: 'value', min: -1.5, max: 0, interval: 0.3,
      axisLine: aLine('#000'), axisTick: aTick('#000', true, 4),
      minorTick: {show: true, splitNumber: 2, length: 4, lineStyle: {color: '#000', width: 1.5}},
      axisLabel: lab(16, '#000', {margin: 6, formatter: function (v) { return v.toFixed(1); }}), splitLine: noSplit},
    {gridIndex: 2, type: 'value', min: -12, max: -5, interval: 1,
      axisLine: aLine('#000'), axisTick: aTick('#000', true, 4),
      axisLabel: logLab('#000', 16, 11, 4), splitLine: noSplit},
    {gridIndex: 3, type: 'value', min: -13, max: -6, interval: 1,
      axisLine: aLine('#000'), axisTick: aTick('#000', true, 4),
      axisLabel: logLab('#000', 16, 11, 4), splitLine: noSplit},
    {gridIndex: 4, type: 'value', min: -9, max: -7, interval: 1,
      axisLine: aLine('#000', 1.2), axisTick: aTick('#000', true, 2),
      axisLabel: logLab('#000', 10, 7, 2), splitLine: noSplit}
  ],
  legend: [
    {data: ['90% 1min', '90% 3min', '90% 7min', '90% 14min', '99.9% 7h'], orient: 'vertical', left: 89, top: 436.5,
      padding: 0, itemGap: 0, itemWidth: 28, itemHeight: 3, icon: 'rect', selectedMode: false,
      textStyle: Object.assign({fontSize: 12, lineHeight: 15}, legendText)},
    {data: ['40nm', '80nm', '120nm'], orient: 'vertical', left: 697, top: 360.5,
      padding: 0, itemGap: 0, itemWidth: 28, itemHeight: 3, icon: 'rect', selectedMode: false,
      formatter: function (n) { return ({'40nm': '  40nm', '80nm': '  80nm', '120nm': '120nm'})[n]; },
      textStyle: Object.assign({fontSize: 15, lineHeight: 19}, legendText)}
  ],
  graphic: {elements: graphics},
  series: series
};

const chart = echarts.init(document.getElementById('chart'), null, {renderer: 'canvas'});
chart.setOption(option);
</script>
</body>
</html>
